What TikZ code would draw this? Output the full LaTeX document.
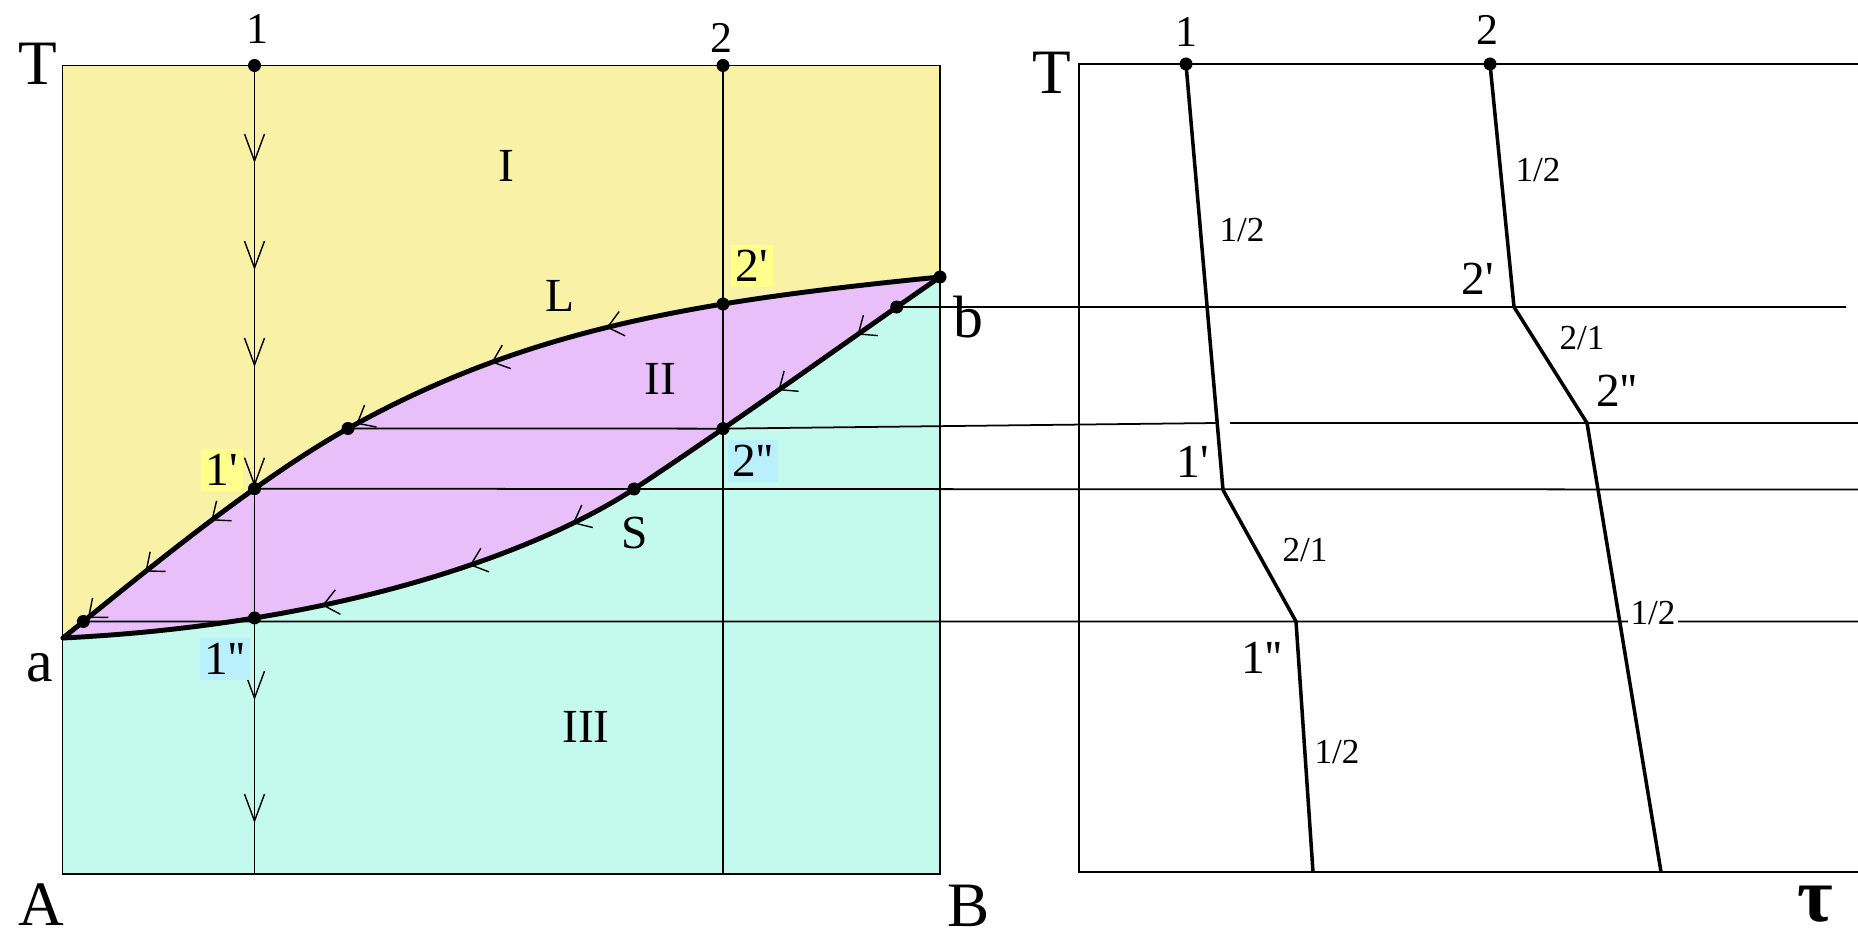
\documentclass[tikz,border=0pt]{standalone}
\usepackage{fontspec}
\setmainfont{Liberation Serif}[Ligatures=TeXOff]
\usetikzlibrary{decorations.markings,arrows.meta,intersections}
\definecolor{regI}{RGB}{249,241,165}
\definecolor{regII}{RGB}{233,191,249}
\definecolor{regIII}{RGB}{196,250,238}
\definecolor{hiY}{RGB}{255,255,140}
\definecolor{hiC}{RGB}{185,240,252}
\newcommand\myVtip{\arrow{Straight Barb[length=2.7mm,width=2mm,line width=0.4pt]}}
\newcommand\myCtip{\arrow{Straight Barb[length=1.5mm,width=2.5mm,line width=0.4pt]}}
\begin{document}
\begin{tikzpicture}[x=0.1mm,y=-0.1mm,
  thinln/.style={line width=0.5pt},
  phase/.style={line width=1.4pt},
  prof/.style={line width=1pt},
  dot/.style={circle,fill=black,inner sep=0pt,minimum size=1.3mm},
  bigtxt/.style={inner sep=0pt,font=\fontsize{18}{18}\selectfont},
  lettxt/.style={inner sep=0pt,font=\fontsize{17}{17}\selectfont},
  midtxt/.style={inner sep=0pt,font=\fontsize{13.5}{13.5}\selectfont},
  numtxt/.style={inner sep=0pt,font=\fontsize{12.5}{12.5}\selectfont},
  smalltxt/.style={inner sep=0pt,font=\fontsize{10}{10}\selectfont},
  hlY/.style={midtxt,fill=hiY,inner sep=0.5mm},
  hlC/.style={midtxt,fill=hiC,inner sep=0.5mm}]
\useasboundingbox (0,0) rectangle (1858,938);
% corners and points
\coordinate (TL) at (62.5,65.5);
\coordinate (TR) at (940,65.5);
\coordinate (BL) at (62.5,874);
\coordinate (BR) at (940,874);
\coordinate (a) at (63,638);
\coordinate (b) at (940,277);
% liquidus L: control points
\coordinate (Lm) at (348,428.5);
\coordinate (Lc1) at (153,565.1);
\coordinate (Lc2) at (258,478.9);
\coordinate (Lc3) at (528,327.7);
\coordinate (Lc4) at (700,301);
% solidus S: control points
\coordinate (Sm) at (634,489);
\coordinate (Sc1) at (363,623);
\coordinate (Sc2) at (554,541.8);
\coordinate (Sc3) at (734,423);
\coordinate (Sc4) at (840,346);
\coordinate (V1t) at (254.5,65.5);
\coordinate (V1b) at (254.5,874);
\coordinate (V2t) at (723,65.5);
\coordinate (V2b) at (723,874);
% helper paths for points on L and S
\path[name path=Lpath] (a) .. controls (Lc1) and (Lc2) .. (Lm) .. controls (Lc3) and (Lc4) .. (b);
\path[name path=Spath] (a) .. controls (Sc1) and (Sc2) .. (Sm) .. controls (Sc3) and (Sc4) .. (b);
\path[name path=V1path] (V1t) -- (V1b);
\path[name path=V2path] (V2t) -- (V2b);
\path[name path=Hhelp] (800,307) -- (960,307);
\path[name path=Hhelpa] (60,621.5) -- (200,621.5);
\path[name intersections={of=Spath and V1path,by={S1pp}}];
\path[name intersections={of=Spath and V2path,by={S2pp}}];
\path[name intersections={of=Spath and Hhelp,by={Sb}}];
\path[name intersections={of=Lpath and V1path,by={L1p}}];
\path[name intersections={of=Lpath and V2path,by={L2p}}];
\path[name intersections={of=Lpath and Hhelpa,by={La}}];
% right panel
\coordinate (RTL) at (1079,64);
\coordinate (RTR) at (1858,64);
\coordinate (RBL) at (1079,872);
\coordinate (RBR) at (1858,872);
\coordinate (R1t) at (1186,64);
\coordinate (R1p) at (1223,490);
\coordinate (R1pp) at (1296,621.5);
\coordinate (R1b) at (1313,872);
\coordinate (R2t) at (1490,64);
\coordinate (R2p) at (1514,307);
\coordinate (R2pp) at (1587,423);
\coordinate (R2b) at (1661,872);
\coordinate (H1e) at (1846,307);
\coordinate (H2g1) at (1217,423);
\coordinate (H2g2) at (1230,423);
\coordinate (H2e) at (1858,423);
\coordinate (H3e) at (1858,489.5);
\coordinate (H4e) at (1858,621.5);
% fills
\fill[regI] (TL) rectangle (BR);
\fill[regIII] (a) .. controls (Sc1) and (Sc2) .. (Sm) .. controls (Sc3) and (Sc4) .. (b) -- (BR) -- (BL) -- cycle;
\fill[regII] (a) .. controls (Lc1) and (Lc2) .. (Lm) .. controls (Lc3) and (Lc4) .. (b)
  .. controls (Sc4) and (Sc3) .. (Sm) .. controls (Sc2) and (Sc1) .. (a) -- cycle;
% frame
\draw[thinln] (TL) rectangle (BR);
% vertical lines
\draw[thinln,postaction={decorate},decoration={markings,
  mark=at position 0.1206 with {\myVtip},
  mark=at position 0.253 with {\myVtip},
  mark=at position 0.373 with {\myVtip},
  mark=at position 0.521 with {\myVtip},
  mark=at position 0.785 with {\myVtip},
  mark=at position 0.937 with {\myVtip}}] (V1t) -- (V1b);
\draw[thinln] (V2t) -- (V2b);
% horizontal lines
\draw[thinln] (Sb) -- (H1e);
\draw[thinln] (Lm) -- (S2pp) -- (H2g1);
\draw[thinln] (H2g2) -- (H2e);
\draw[thinln] (L1p) -- (Sm) -- (H3e);
\draw[thinln] (La) -- (H4e);
% phase curves
\draw[phase,line cap=round,postaction={decorate},decoration={markings,
  mark=at position 0.348 with {\myCtip},
  mark=at position 0.472 with {\myCtip},
  mark=at position 0.625 with {\myCtip},
  mark=at position 0.805 with {\myCtip},
  mark=at position 0.891 with {\myCtip},
  mark=at position 0.967 with {\myCtip}}]
  (b) .. controls (Lc4) and (Lc3) .. (Lm) .. controls (Lc2) and (Lc1) .. (a);
\draw[phase,line cap=round,postaction={decorate},decoration={markings,
  mark=at position 0.104 with {\myCtip},
  mark=at position 0.204 with {\myCtip},
  mark=at position 0.457 with {\myCtip},
  mark=at position 0.572 with {\myCtip},
  mark=at position 0.73 with {\myCtip}}]
  (b) .. controls (Sc4) and (Sc3) .. (Sm) .. controls (Sc2) and (Sc1) .. (a);
% right panel frame
\draw[thinln] (RTR) -- (RTL) -- (RBL) -- (RBR);
\draw[prof] (R1t) -- (R1p) -- (R1pp) -- (R1b);
\draw[prof] (R2t) -- (R2p) -- (R2pp) -- (R2b);
% dots
\node[dot] (d1) at (V1t) {};
\node[dot] (d2) at (V2t) {};
\node[dot] (d3) at (L2p) {};
\node[dot] (d4) at (Lm) {};
\node[dot] (d5) at (L1p) {};
\node[dot] (d6) at (La) {};
\node[dot] (d7) at (Sb) {};
\node[dot] (d8) at (S2pp) {};
\node[dot] (d9) at (Sm) {};
\node[dot] (d10) at (S1pp) {};
\node[dot] (d11) at (b) {};
\node[dot] (d12) at (R1t) {};
\node[dot] (d13) at (R2t) {};
% left labels
\node[bigtxt] (lT) at (38,64) {T};
\node[bigtxt] (lA) at (41,905) {A};
\node[bigtxt] (lB) at (969,906) {B};
\node[lettxt] (la) at (40,668) {a};
\node[lettxt] (lb) at (968,317) {b};
\node[numtxt] (l1) at (257,29) {1};
\node[numtxt] (l2) at (721,38) {2};
\node[midtxt] (lI) at (506,166) {I};
\node[midtxt] (lII) at (660,379) {II};
\node[midtxt] (lIII) at (586,727) {III};
\node[midtxt] (lL) at (560,296) {L};
\node[midtxt] (lS) at (635,533) {S};
\node[hlY] (l1p) at (222,470) {1'};
\node[hlC] (l1pp) at (225,659) {1''};
\node[hlY] (l2p) at (752,266) {2'};
\node[hlC] (l2pp) at (753,461) {2''};
% right labels
\node[bigtxt] (rT) at (1052,73) {T};
\node[numtxt] (r1) at (1186,32) {1};
\node[numtxt] (r2) at (1487,30) {2};
\node[midtxt] (r1p) at (1193,462) {1'};
\node[midtxt] (r1pp) at (1262,658) {1''};
\node[midtxt] (r2p) at (1478,279) {2'};
\node[midtxt] (r2pp) at (1617,391) {2''};
\node[smalltxt] (s1) at (1242,230) {1/2};
\node[smalltxt] (s2) at (1305,550) {2/1};
\node[smalltxt] (s3) at (1337,752) {1/2};
\node[smalltxt] (s4) at (1538,170) {1/2};
\node[smalltxt] (s5) at (1582,338) {2/1};
\node[smalltxt,fill=white,inner sep=0.3mm] (s6) at (1653,613) {1/2};
\node[inner sep=0pt,font=\fontsize{22}{22}\selectfont\bfseries] (tau) at (1815,904) {τ};
\end{tikzpicture}
\end{document}
